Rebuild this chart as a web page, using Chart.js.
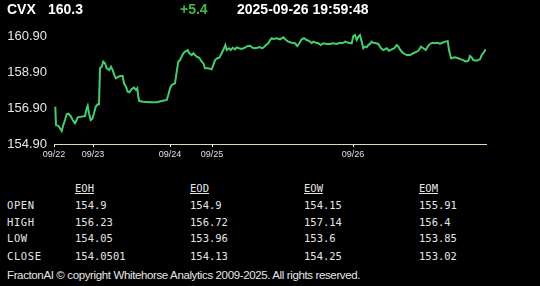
<!DOCTYPE html>
<html>
<head>
<meta charset="utf-8">
<script src="https://cdn.jsdelivr.net/npm/chart.js@4.4.1/dist/chart.umd.min.js"></script>
<style>
  html, body { margin:0; padding:0; background:#000; width:540px; height:286px; overflow:hidden; }
  .t { position:absolute; white-space:nowrap; }
  .hdr { font: bold 14px "Liberation Sans", Arial, sans-serif; color:#fff; line-height:18px; top:0; }
  .mono { font: 10.5px "DejaVu Sans Mono", monospace; color:#e6e6e6; line-height:14px; }
  .foot { font: 11.5px "Liberation Sans", Arial, sans-serif; color:#e6e6e6; line-height:14px; }
  #c { position:absolute; left:0; top:0; }
</style>
</head>
<body>
<canvas id="c" width="540" height="165"></canvas>
<div id="overlay"></div>
<script>
// ---- header ----
const symbol = "CVX";
const lastPrice = "160.3";
const change = "+5.4";
const stamp = "2025-09-26 19:59:48";

// ---- chart data (x = intraday time index, y = price) ----
const xs = [1.3,2,4.3,6,7.7,9.3,11,12.7,14.3,16.7,18.7,21,22.7,23.7,27.7,31,32.7,33.7,35,36.7,38.3,40,41.7,43.7,45,46,47.7,49.3,51,52.7,55.3,57,58.7,60.3,62,64.3,66.7,68.7,70,72,73.7,75.3,77.7,80,82,83.3,84.3,85.3,89.3,96,102.7,107.7,112.7,114.3,116,117.7,121,122.7,124.3,126,127.7,129.3,131,132.7,133.7,135.3,137.7,139.3,141,142.7,145.3,147.7,149.3,151,154.3,157.7,159.3,161,163.3,165.3,167.7,170,171.3,172.7,175,176.7,178.7,181,182.7,185,187.7,191,193.3,196,198.7,201,203.3,206,207.7,209.3,212,214.3,216,217.7,219.3,222.7,226,229.3,232,234.3,237.7,241,243.3,245.3,247.7,250,252.7,255.3,257.7,259.3,262,264.3,266.7,269.3,272.7,276,279.3,282.7,286,288.7,291,294.3,297.7,299.3,301,302.7,304.3,306,307.7,309.3,311,312.7,314.3,316,317.7,319.3,322,324.3,327,329.3,332.7,335,337.7,340.3,342.7,344.3,347,349.3,352.7,356,359.3,362.7,364.3,367,369.3,371.7,373.7,376,378.3,381,383.7,386,388.3,391,393.7,395,397,401,404.3,407,409.3,411.7,414.3,416,417.7,419.3,422.7,426,427.7,429.3,431.7];
const ys = [156.98,155.96,155.92,155.78,155.63,155.96,156.24,156.56,156.59,156.46,156.24,156.06,156.24,156.39,156.43,156.46,156.89,157.04,156.62,156.24,156.30,156.62,156.98,157.12,157.12,159.13,159.22,159.50,159.41,159.13,159.03,159.22,159.03,158.75,158.57,158.66,158.70,158.70,158.29,158.10,157.82,157.79,157.97,158.05,157.92,158.01,157.54,157.30,157.26,157.23,157.23,157.30,157.36,157.64,158.01,158.20,158.29,158.94,159.50,159.59,159.78,159.97,160.06,160.10,160.15,159.97,159.87,159.97,159.87,159.78,159.72,159.50,159.41,159.13,159.13,159.07,159.31,159.59,159.69,159.72,159.97,160.25,160.43,160.15,160.25,160.15,160.28,160.19,160.30,160.25,160.21,160.28,160.37,160.39,160.28,160.25,160.28,160.32,160.25,160.28,160.43,160.53,160.71,160.81,160.77,160.81,160.75,160.86,160.71,160.62,160.56,160.53,160.37,160.53,160.75,160.81,160.71,160.65,160.53,160.62,160.56,160.53,160.43,160.53,160.49,160.49,160.53,160.49,160.56,160.53,160.62,160.56,160.53,160.93,160.99,160.71,160.89,160.99,160.62,160.25,160.34,160.30,160.43,160.49,160.62,160.56,160.53,160.49,160.25,160.15,160.25,160.11,160.19,160.25,160.43,160.34,160.11,159.97,159.87,159.87,159.97,160.06,160.11,160.34,160.25,160.15,160.34,160.49,160.56,160.53,160.56,160.49,160.56,160.62,160.65,160.15,159.69,159.74,159.69,159.63,159.59,159.50,159.55,159.82,159.74,159.59,159.55,159.63,159.87,159.97,160.19];
const xTickPos = [0, 39, 116, 158, 299];
const xTickLabels = ["09/22", "09/23", "09/24", "09/25", "09/26"];
const yTicks = [154.90, 156.90, 158.90, 160.90];

// ---- summary table ----
const colHeaders = ["EOH", "EOD", "EOW", "EOM"];
const rowLabels = ["OPEN", "HIGH", "LOW", "CLOSE"];
const openVals  = ["154.9", "154.9", "154.15", "155.91"];
const highVals  = ["156.23", "156.72", "157.14", "156.4"];
const lowVals   = ["154.05", "153.96", "153.6", "153.85"];
const closeVals = ["154.0501", "154.13", "154.25", "153.02"];
const footer = "FractonAI \u00A9 copyright Whitehorse Analytics 2009-2025. All rights reserved.";

// ---- build overlay text ----
const ov = document.getElementById('overlay');
function addText(txt, cls, left, top, extra) {
  const d = document.createElement('div');
  d.className = 't ' + cls;
  d.textContent = txt;
  d.style.left = left + 'px';
  d.style.top = top + 'px';
  if (extra) Object.assign(d.style, extra);
  ov.appendChild(d);
  return d;
}
addText(symbol, 'hdr', 7, 0);
addText(lastPrice, 'hdr', 48, 0);
addText(change, 'hdr', 180, 0, {color:'#3dbb45'});
addText(stamp, 'hdr', 237, 0);

const colX = [75, 190, 304, 419];
const rowY = [205, 221.5, 238, 255.5];
colHeaders.forEach((h, i) => addText(h, 'mono', colX[i], 188 - 7, {textDecoration:'underline'}));
const rows = [openVals, highVals, lowVals, closeVals];
rowLabels.forEach((lab, r) => {
  addText(lab, 'mono', 7, rowY[r] - 7, {letterSpacing:'0.6px'});
  rows[r].forEach((v, c) => addText(v, 'mono', colX[c], rowY[r] - 7));
});
addText(footer, 'foot', 7, 275 - 7, {letterSpacing:'-0.37px'});

// ---- chart ----
const pts = xs.map((x, i) => ({x: x, y: ys[i]}));
new Chart(document.getElementById('c'), {
  type: 'line',
  data: { datasets: [{
    data: pts,
    borderColor: '#45cc6e',
    borderWidth: 2,
    pointRadius: 0,
    tension: 0,
    fill: false
  }]},
  options: {
    responsive: false,
    animation: false,
    layout: { padding: { top: 30, right: 54, left: 0, bottom: 0 } },
    plugins: { legend: { display: false }, tooltip: { enabled: false } },
    scales: {
      x: {
        type: 'linear',
        min: 0,
        max: 432,
        afterBuildTicks: (s) => { s.ticks = xTickPos.map(v => ({value: v})); },
        afterFit: (s) => { s.height = 21; },
        ticks: {
          autoSkip: false, maxRotation: 0, padding: 2,
          color: '#e0e0e0',
          font: { family: '"Liberation Sans", Arial, sans-serif', size: 9 },
          callback: (v) => { const i = xTickPos.indexOf(v); return i >= 0 ? xTickLabels[i] : ''; }
        },
        grid: { display: true, drawOnChartArea: false, drawTicks: true, tickLength: 3, color: '#ffffff' },
        border: { display: true, color: '#d2e2a8', width: 1 }
      },
      y: {
        min: 154.9,
        max: 161.27,
        afterBuildTicks: (s) => { s.ticks = yTicks.map(v => ({value: v})); },
        afterFit: (s) => { s.width = 54; },
        ticks: {
          padding: 7,
          color: '#e6e6e6',
          font: { family: '"Liberation Sans", Arial, sans-serif', size: 13 },
          callback: (v) => Number(v).toFixed(2)
        },
        grid: { display: false, drawTicks: false },
        border: { display: false }
      }
    }
  }
});
</script>
</body>
</html>
